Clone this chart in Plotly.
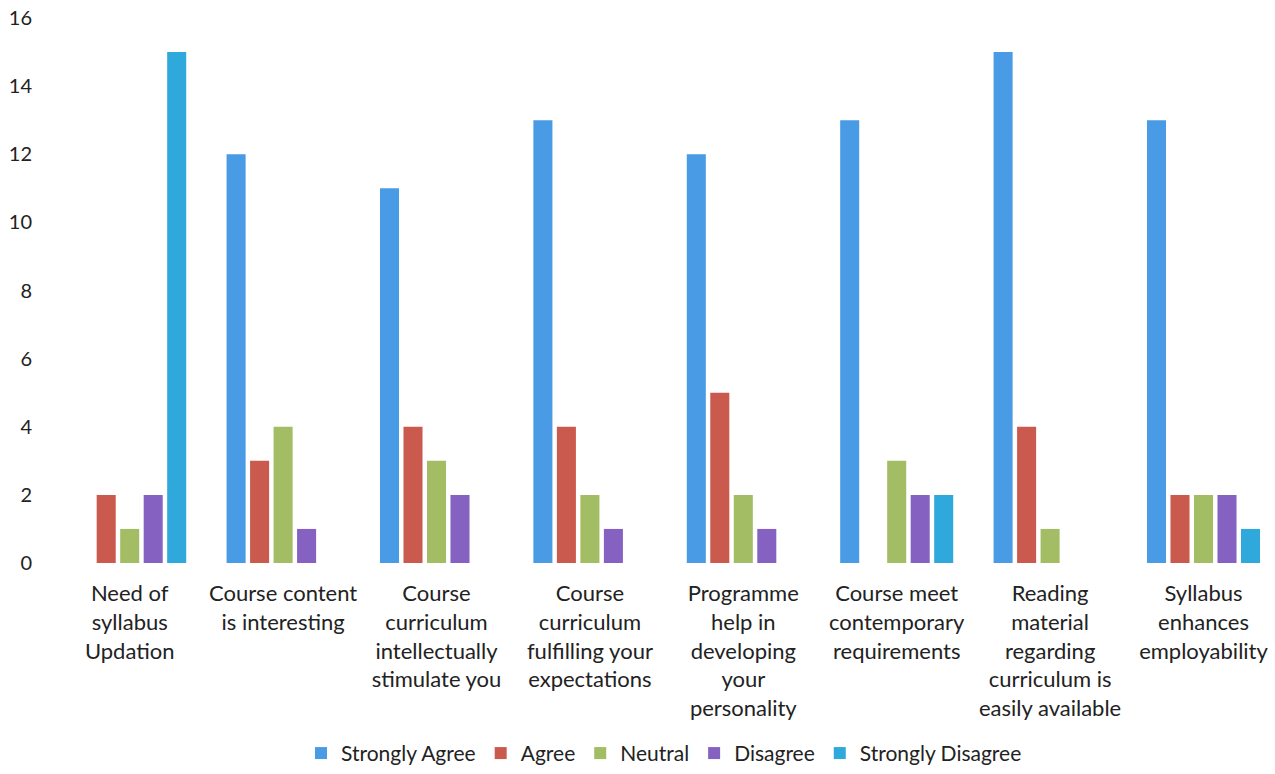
import plotly.graph_objects as go

categories = [
    "Need of<br>syllabus<br>Updation",
    "Course content<br>is interesting",
    "Course<br>curriculum<br>intellectually<br>stimulate you",
    "Course<br>curriculum<br>fulfilling your<br>expectations",
    "Programme<br>help in<br>developing<br>your<br>personality",
    "Course meet<br>contemporary<br>requirements",
    "Reading<br>material<br>regarding<br>curriculum is<br>easily available",
    "Syllabus<br>enhances<br>employability",
]
series_names = ["Strongly Agree", "Agree", "Neutral", "Disagree", "Strongly Disagree"]
strongly_agree = [0, 12, 11, 13, 12, 13, 15, 13]
agree = [2, 3, 4, 4, 5, 0, 4, 2]
neutral = [1, 4, 3, 2, 2, 3, 1, 2]
disagree = [2, 1, 2, 1, 1, 2, 0, 2]
strongly_disagree = [15, 0, 0, 0, 0, 2, 0, 1]
y_ticks = [0, 2, 4, 6, 8, 10, 12, 14, 16]

series_values = [strongly_agree, agree, neutral, disagree, strongly_disagree]
colors = ["#4A9BE6", "#CB5A4E", "#A3BD64", "#8561C2", "#2FA8DC"]

FONT = "Lato"
fig = go.Figure()
for name, vals, col in zip(series_names, series_values, colors):
    fig.add_trace(go.Bar(x=list(range(len(categories))), y=vals, name=name,
                         marker=dict(color=col, line=dict(width=0))))

W, H = 1275, 774
L, T, B = 53, 18, 211
unit = 153.4
xmax = (W - L) / unit - 0.5

fig.update_layout(
    width=W, height=H,
    margin=dict(l=L, r=0, t=T, b=B, pad=0),
    paper_bgcolor="white", plot_bgcolor="white",
    barmode="group", bargap=0.234, bargroupgap=0.19,
    font=dict(family=FONT, size=20, color="#222222"),
    showlegend=True,
    legend=dict(orientation="h", x=0.5, xanchor="center", y=-0.387, yanchor="bottom",
                font=dict(family=FONT, size=21, color="#222222"),
                itemwidth=30, traceorder="normal", tracegroupgap=0),
    xaxis=dict(tickmode="array", tickvals=list(range(len(categories))), ticktext=categories,
               range=[-0.5, xmax], showgrid=False, zeroline=False, showline=False,
               automargin=False,
               ticks="outside", ticklen=11, tickcolor="rgba(0,0,0,0)",
               tickfont=dict(family=FONT, size=22, color="#222222")),
    yaxis=dict(range=[0, 16], tickvals=y_ticks, showgrid=False, zeroline=False, showline=False,
               automargin=False,
               ticks="outside", ticklen=16, tickcolor="rgba(0,0,0,0)",
               tickfont=dict(family=FONT, size=20, color="#222222")),
)
fig.write_html("out.html", config={"displayModeBar": False},
               post_script="document.body.style.margin='0';")
